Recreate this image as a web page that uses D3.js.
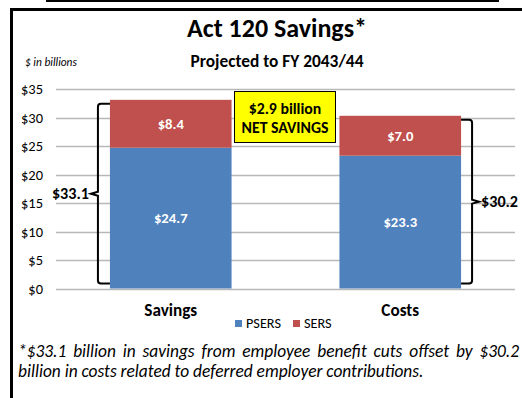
<!DOCTYPE html>
<html><head><meta charset="utf-8">
<script src="https://cdn.jsdelivr.net/npm/d3@7"></script>
<style>body{margin:0;background:#fff}svg{display:block}</style>
</head><body>
<svg id="c" width="522" height="398"></svg>
<script>
const categories = ["Savings", "Costs"];
const seriesNames = ["PSERS", "SERS"];
const psers = [24.7, 23.3];
const sers = [8.4, 7.0];
const totals = ["$33.1", "$30.2"];
const yTicks = [0, 5, 10, 15, 20, 25, 30, 35];
const colors = ["#4F81BD", "#C0504D"];
const title = "Act 120 Savings*";
const subtitle = "Projected to FY 2043/44";
const unitNote = "$ in billions";
const callout = ["$2.9 billion", "NET SAVINGS"];
const footnote = ["*$33.1 billion in savings from employee benefit cuts offset by $30.2", "billion in costs related to deferred employer contributions."];

const font = "Carlito, Calibri, Lato, 'Open Sans', 'Liberation Sans', sans-serif";
const svg = d3.select("#c").style("font-family", font);

function fit(sel, w){
  const cur = +sel.attr("font-size");
  const m = sel.node().getComputedTextLength();
  const fs = cur*w/m;
  sel.attr("font-size", fs);
  return fs;
}

// frame
svg.append("line").attr("x1",46).attr("x2",499).attr("y1",1).attr("y2",1).attr("stroke","#000").attr("stroke-width",2);
svg.append("line").attr("x1",10).attr("x2",522).attr("y1",9.5).attr("y2",9.5).attr("stroke","#000").attr("stroke-width",3);
svg.append("line").attr("x1",11.5).attr("x2",11.5).attr("y1",8).attr("y2",398).attr("stroke","#000").attr("stroke-width",3);

const x = d3.scaleBand().domain(categories).range([56, 515]).paddingInner(0.47).paddingOuter(0.235);
const y = d3.scaleLinear().domain([0, 35]).range([288.5, 89]);

// grid
svg.append("g").selectAll("line").data(yTicks).join("line")
  .attr("x1",56).attr("x2",515).attr("y1",d=>Math.round(y(d))+0.5).attr("y2",d=>Math.round(y(d))+0.5)
  .attr("stroke","#B8B8B8").attr("stroke-width",1.3);

// y labels
const yAxis = d3.axisLeft(y).tickValues(yTicks).tickSize(0).tickPadding(0).tickFormat(d=>"$"+d);
const ga = svg.append("g").attr("transform","translate(43,0)").call(yAxis);
ga.select(".domain").remove();
ga.selectAll("text").attr("font-family",font).attr("font-size",12).attr("fill","#000");
const t35 = ga.selectAll("text").filter(d=>d===35);
const yfs = fit(t35, 22);
ga.selectAll("text").attr("font-size", yfs);

// stacked bars
const rows = categories.map((c,i)=>({cat:c, PSERS:psers[i], SERS:sers[i]}));
const stack = d3.stack().keys(seriesNames)(rows);
const gs = svg.append("g").selectAll("g").data(stack).join("g").attr("fill",(d,i)=>colors[i]);
gs.selectAll("rect").data(d=>d).join("rect")
  .attr("x",d=>x(d.data.cat)).attr("width",x.bandwidth())
  .attr("y",d=>y(d[1])).attr("height",d=>y(d[0])-y(d[1]));
const bl = gs.selectAll("text").data(d=>d).join("text")
  .attr("x",d=>x(d.data.cat)+x.bandwidth()/2).attr("y",d=>(y(d[0])+y(d[1]))/2)
  .attr("dy","0.35em").attr("text-anchor","middle").attr("fill","#fff")
  .attr("font-weight","bold").attr("font-size",13)
  .text(d=>"$"+(d[1]-d[0]).toFixed(1));
const blfs = fit(bl.filter(d=>d.data.cat==="Savings" && d[0]===0), 33.7);
bl.attr("font-size", blfs);

// braces
const braceLabels = [];
function brace(i, side){
  const top = y(psers[i]+sers[i]) + 4, bot = y(0) - 5;
  const mid = (top+bot)/2;
  const bx = side<0 ? x(categories[i]) - 12 : x(categories[i]) + x.bandwidth() + 11;
  const tip = side<0 ? x(categories[i]) : x(categories[i]) + x.bandwidth();
  const r = 3;
  const p = d3.path();
  p.moveTo(tip, top);
  p.lineTo(bx - side*r, top);
  p.quadraticCurveTo(bx, top, bx, top + r);
  p.lineTo(bx, mid - 2);
  p.lineTo(bx + side*7, mid);
  p.lineTo(bx, mid + 2);
  p.lineTo(bx, bot - r);
  p.quadraticCurveTo(bx, bot, bx - side*r, bot);
  p.lineTo(tip, bot);
  svg.append("path").attr("d",p.toString()).attr("fill","none").attr("stroke","#000").attr("stroke-width",2);
  braceLabels.push(svg.append("text").attr("x", bx + side*9).attr("y", mid).attr("dy","0.35em")
    .attr("text-anchor", side<0 ? "end" : "start").attr("font-weight","bold").attr("font-size",14)
    .text(totals[i]));
}
brace(0,-1); brace(1,1);
const bfs = fit(braceLabels[0], 37);
braceLabels[1].attr("font-size", bfs);

// callout
svg.append("rect").attr("x",234.5).attr("y",91.5).attr("width",101).attr("height",51).attr("fill","#FFFF00").attr("stroke","#000").attr("stroke-width",1);
const ct = svg.append("g").selectAll("text").data(callout).join("text")
  .attr("x",285).attr("y",(d,i)=>108+i*19).attr("dy","0.35em").attr("text-anchor","middle")
  .attr("font-weight","bold").attr("font-size",13.5).text(d=>d);
const cfs = fit(ct.filter((d,i)=>i===1), 87);
ct.attr("font-size", cfs);

// titles
fit(svg.append("text").attr("x",277).attr("y",37).attr("text-anchor","middle").attr("font-weight","bold").attr("font-size",21).text(title), 180);
fit(svg.append("text").attr("x",277).attr("y",67).attr("text-anchor","middle").attr("font-weight","bold").attr("font-size",13.5).text(subtitle), 173);
fit(svg.append("text").attr("x",25).attr("y",66).attr("font-style","italic").attr("font-size",10).text(unitNote), 52);

// x labels
const xl = svg.append("g").selectAll("text").data(categories).join("text")
  .attr("x",d=>x(d)+x.bandwidth()/2).attr("y",316).attr("text-anchor","middle")
  .attr("font-weight","bold").attr("font-size",14).text(d=>d);
const xfs = fit(xl.filter(d=>d==="Savings"), 53);
xl.attr("font-size", xfs);

// legend
const lg = svg.append("g");
const lx = [235, 293];
const lt = [];
seriesNames.forEach((s,i)=>{
  lg.append("rect").attr("x",lx[i]).attr("y",320).attr("width",7).attr("height",7).attr("fill",colors[i]);
  lt.push(lg.append("text").attr("x",lx[i]+11).attr("y",327.5).attr("font-size",11.5).text(s));
});
const lfs = fit(lt[0], 35);
lt[1].attr("font-size", lfs);

// footnote
const f1 = svg.append("text").attr("x",18).attr("y",357).attr("font-style","italic").attr("font-size",15).text(footnote[0]);
const f2 = svg.append("text").attr("x",18).attr("y",377).attr("font-style","italic").attr("font-size",15).text(footnote[1]);
const ffs = fit(f2, 406);
f1.attr("font-size", ffs);
const w1 = f1.node().getComputedTextLength();
const spaces = footnote[0].split(" ").length - 1;
f1.attr("word-spacing", Math.max(0, (501 - w1)/spaces));
</script>
</body></html>
